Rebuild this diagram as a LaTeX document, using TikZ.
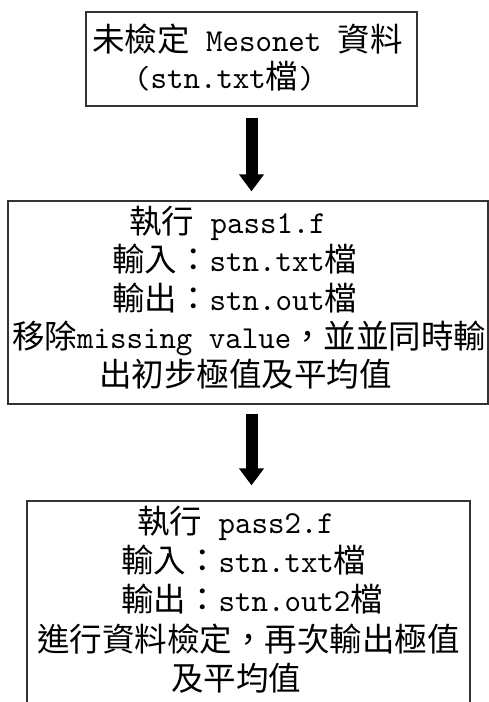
\documentclass[tikz,border=0pt]{standalone}
\usepackage{fontspec}
\newfontfamily\cjk{Noto Sans CJK TC}
\newfontfamily\lat[Extension=.otf,FakeStretch=0.98]{lmmono10-regular}
\usetikzlibrary{arrows.meta}
\newcommand\zh[1]{{\fontsize{32.5}{32}\cjk #1}}
\tikzset{
  box/.style={draw=black!80, line width=1.3pt, inner sep=0pt},
  txt/.style={anchor=base west, inner sep=0pt, font=\fontsize{32}{32}\lat},
  bigarrow/.style={line width=12pt, -{Triangle[width=24pt,length=17pt]}}
}
\begin{document}
\begin{tikzpicture}[x=1pt,y=-1pt]
\useasboundingbox (0,0) rectangle (489,702);
\clip (0,0) rectangle (489,702);
% boxes
\node[box, minimum width=331pt, minimum height=94pt] (b1) at (251.5,59) {};
\node[box, minimum width=480pt, minimum height=203pt] (b2) at (248,302.5) {};
\node[box, minimum width=443pt, minimum height=209pt] (b3) at (248.5,605.5) {};
% arrows
\draw[bigarrow, shorten <=11pt, shorten >=9pt] (b1.south) -- (b1.south |- b2.north);
\draw[bigarrow, shorten <=9pt, shorten >=15pt] (b1.south |- b2.south) -- (b1.south |- b3.north);
% box 1 text
\node[txt] (t11) at (92,51) {\zh{未檢定} Mesonet \zh{資料}};
\node[txt] (t12) at (134,88) {(stn.txt\zh{檔})};
% box 2 text
\node[txt] (t21) at (129,233) {\zh{執行} pass1.f};
\node[txt] (t22) at (112,271.5) {\zh{輸入：}stn.txt\zh{檔}};
\node[txt] (t23) at (112,310) {\zh{輸出：}stn.out\zh{檔}};
\node[txt] (t24) at (12,348) {\zh{移除}missing value\zh{，並並同時輸}};
\node[txt] (t25) at (99,386.5) {\zh{出初步極值及平均值}};
% box 3 text
\node[txt] (t31) at (137,533) {\zh{執行} pass2.f};
\node[txt] (t32) at (121,572) {\zh{輸入：}stn.txt\zh{檔}};
\node[txt] (t33) at (121,611) {\zh{輸出：}stn.out2\zh{檔}};
\node[txt] (t34) at (37,651) {\zh{進行資料檢定，再次輸出極值}};
\node[txt] (t35) at (171,690) {\zh{及平均值}};
\end{tikzpicture}
\end{document}
